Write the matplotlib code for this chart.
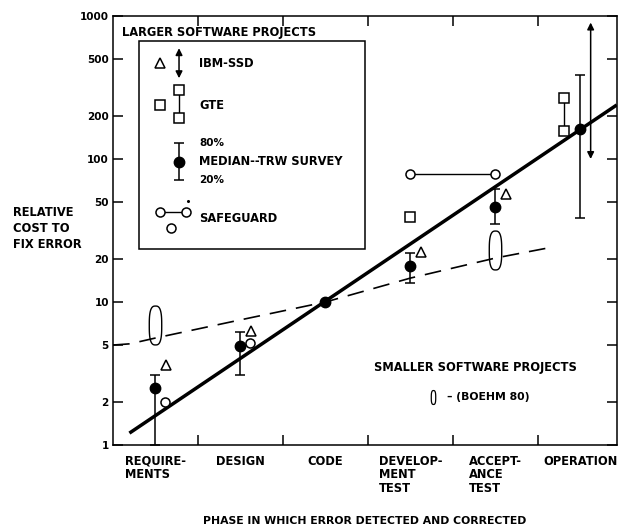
import numpy as np
import matplotlib.pyplot as plt
from matplotlib.path import Path

plt.rcParams["font.family"] = "DejaVu Sans"
plt.rcParams["font.weight"] = "bold"

# ---------------------------------------------------------------------------
# Data
# ---------------------------------------------------------------------------
PHASES = ["REQUIRE-\nMENTS", "DESIGN", "CODE", "DEVELOP-\nMENT\nTEST",
          "ACCEPT-\nANCE\nTEST", "OPERATION"]
Y_TICKS = [1, 2, 5, 10, 20, 50, 100, 200, 500, 1000]

# TRW survey: median with 20% / 80% range (code phase has no range)
TRW_X = [0, 1, 2, 3, 4, 5]
TRW_MEDIAN = [2.5, 4.9, 10.0, 17.9, 46.0, 162.0]
TRW_P80 = [3.1, 6.2, 10.0, 22.0, 62.0, 386.0]
TRW_P20 = [1.0, 3.1, 10.0, 13.6, 35.0, 38.7]

# IBM-SSD
IBM_X = [0, 1, 3, 4]
IBM_Y = [3.6, 6.3, 22.3, 57.0]
IBM_RANGE_X = 5
IBM_RANGE = [100.0, 900.0]

# GTE
GTE_X = [3]
GTE_Y = [39.4]
GTE_RANGE_X = 5
GTE_RANGE = [157.0, 266.0]

# SAFEGUARD
SAFE_X = [0, 1]
SAFE_Y = [2.0, 5.2]
SAFE_RANGE_X = [3, 4]
SAFE_RANGE_Y = [78.6, 78.6]

# smaller projects (Boehm 80)
BOEHM_X = [0, 4]
BOEHM_Y = [6.9, 23.0]

# trend lines
LARGE_TREND_X = [-0.29, 5.41]
LARGE_TREND_Y = [1.23, 235.0]
SMALL_TREND_X = [-0.5, -0.3, 0, 1, 2, 3, 4, 4.67]
SMALL_TREND_Y = [5.0, 5.1, 5.6, 7.5, 10.0, 14.7, 20.3, 24.2]

# ---------------------------------------------------------------------------
# Styling helpers
# ---------------------------------------------------------------------------
# rounded "pill" outline used for the Boehm 80 marks (superellipse)
t = np.linspace(0, 2 * np.pi, 80)
c, s = np.cos(t), np.sin(t)
OVAL = Path(np.column_stack([0.32 * np.sign(c) * np.abs(c) ** 0.7,
                             np.sign(s) * np.abs(s) ** 0.7]), closed=True)

OPEN = dict(mfc="white", mec="black", mew=1.1, ls="none")
FS = 8.3

fig = plt.figure(figsize=(6.18, 5.27), dpi=100)
ax = fig.add_axes([113 / 618, 82 / 527, 504 / 618, 429 / 527])
ax.set_yscale("log")
ax.set_xlim(-0.5, 5.43)
ax.set_ylim(1, 1000)

# trend lines
ax.plot(LARGE_TREND_X, LARGE_TREND_Y, color="black", lw=2.5, zorder=2)
ax.plot(SMALL_TREND_X, SMALL_TREND_Y, color="black", lw=1.2,
        dashes=(10, 6), zorder=2)

# TRW median + range
med = np.array(TRW_MEDIAN)
yerr = [med - np.array(TRW_P20), np.array(TRW_P80) - med]
ax.errorbar(TRW_X, TRW_MEDIAN, yerr=yerr, fmt="o", color="black", ms=7.5,
            elinewidth=1.1, capsize=3.3, capthick=1.1, zorder=4)

# IBM-SSD
ax.plot(np.array(IBM_X) + 0.12, IBM_Y, marker="^", ms=7, **OPEN, zorder=5)
ax.annotate("", xy=(IBM_RANGE_X + 0.12, IBM_RANGE[0]),
            xytext=(IBM_RANGE_X + 0.12, IBM_RANGE[1]),
            arrowprops=dict(arrowstyle="<|-|>", color="black", lw=1.1,
                            mutation_scale=10, shrinkA=0, shrinkB=0))

# GTE
ax.plot(GTE_X, GTE_Y, marker="s", ms=6.5, **OPEN, zorder=5)
ax.plot([GTE_RANGE_X - 0.19] * 2, GTE_RANGE, color="black", lw=1.0,
        marker="s", ms=6.5, mfc="white", mec="black", mew=1.1, zorder=5)

# SAFEGUARD
ax.plot(np.array(SAFE_X) + 0.11, SAFE_Y, marker="o", ms=6.5, **OPEN, zorder=5)
ax.plot(SAFE_RANGE_X, SAFE_RANGE_Y, color="black", lw=1.0, marker="o",
        ms=6.5, mfc="white", mec="black", mew=1.1, zorder=5)

# Boehm 80 ovals
ax.plot(BOEHM_X, BOEHM_Y, marker=OVAL, ms=28, mfc="none", mec="black",
        mew=1.0, ls="none", zorder=3)

# ---------------------------------------------------------------------------
# Axes, ticks
# ---------------------------------------------------------------------------
for sp in ax.spines.values():
    sp.set_linewidth(1.1)

ax.set_yticks(Y_TICKS)
ax.set_yticklabels([str(v) for v in Y_TICKS], fontsize=7.5, fontweight="bold")
ax.yaxis.set_minor_locator(plt.NullLocator())
ax.tick_params(axis="y", which="major", direction="in", length=7, width=1.1,
               right=True, pad=3)

ax.set_xticks([0.5, 1.5, 2.5, 3.5, 4.5])
ax.set_xticklabels([])
ax.set_xticks(TRW_X, minor=True)
ax.set_xticklabels(PHASES, minor=True, fontsize=FS, fontweight="bold")
ax.tick_params(axis="x", which="major", direction="in", length=7, width=1.1,
               top=True)
ax.tick_params(axis="x", which="minor", length=0, pad=7)
for lbl in ax.get_xticklabels(minor=True):
    lbl.set_multialignment("left")
    lbl.set_linespacing(1.05)

# ---------------------------------------------------------------------------
# Legend box (drawn by hand, axes fraction)
# ---------------------------------------------------------------------------
tr = ax.transAxes
ax.add_patch(plt.Rectangle((0.0516, 0.457), 0.4484, 0.4847, fill=False,
                           lw=1.1, transform=tr, zorder=6))
ax.text(0.018, 0.962, "LARGER SOFTWARE PROJECTS", transform=tr, fontsize=FS,
        va="center", ha="left")

ax.plot([0.093], [0.890], marker="^", ms=6.5, transform=tr, **OPEN)
ax.annotate("", xy=(0.131, 0.855), xytext=(0.131, 0.925), xycoords=tr,
            arrowprops=dict(arrowstyle="<|-|>", color="black", lw=1.1,
                            mutation_scale=10, shrinkA=0, shrinkB=0))
ax.text(0.171, 0.890, "IBM-SSD", transform=tr, fontsize=FS, va="center")

ax.plot([0.093], [0.7925], marker="s", ms=6.5, transform=tr, **OPEN)
ax.plot([0.131, 0.131], [0.8275, 0.762], transform=tr, color="black", lw=1.0,
        marker="s", ms=6.5, mfc="white", mec="black", mew=1.1)
ax.text(0.171, 0.7925, "GTE", transform=tr, fontsize=FS, va="center")

ax.errorbar([0.131], [0.660], yerr=[[0.042], [0.044]], fmt="o", color="black",
            ms=7.5, elinewidth=1.1, capsize=3.3, capthick=1.1, transform=tr)
ax.text(0.171, 0.704, "80%", transform=tr, fontsize=7.5, va="center")
ax.text(0.171, 0.660, "MEDIAN--TRW SURVEY", transform=tr, fontsize=FS,
        va="center")
ax.text(0.171, 0.618, "20%", transform=tr, fontsize=7.5, va="center")

ax.plot([0.093, 0.145], [0.543, 0.543], transform=tr, color="black", lw=1.0,
        marker="o", ms=6.5, mfc="white", mec="black", mew=1.1)
ax.plot([0.115], [0.506], marker="o", ms=6.5, transform=tr, **OPEN)
ax.plot([0.149], [0.568], marker="o", ms=1.2, color="black", transform=tr)
ax.text(0.171, 0.529, "SAFEGUARD", transform=tr, fontsize=FS, va="center")

# smaller projects note
ax.text(0.72, 0.1795, "SMALLER SOFTWARE PROJECTS", transform=tr, fontsize=FS,
        ha="center", va="center")
ax.plot([0.635], [0.112], marker=OVAL, ms=10, mfc="none", mec="black",
        mew=0.9, transform=tr)
ax.text(0.662, 0.112, "\u2013 (BOEHM 80)", transform=tr, fontsize=7.8,
        va="center", ha="left")

# axis titles
fig.text(0.021, 0.5655, "RELATIVE\nCOST TO\nFIX ERROR", fontsize=FS,
         ha="left", va="center", linespacing=1.3)
fig.text(365 / 618, 0.012, "PHASE IN WHICH ERROR DETECTED AND CORRECTED",
         fontsize=7.8, ha="center", va="center")

fig.savefig("out.png", dpi=100)
